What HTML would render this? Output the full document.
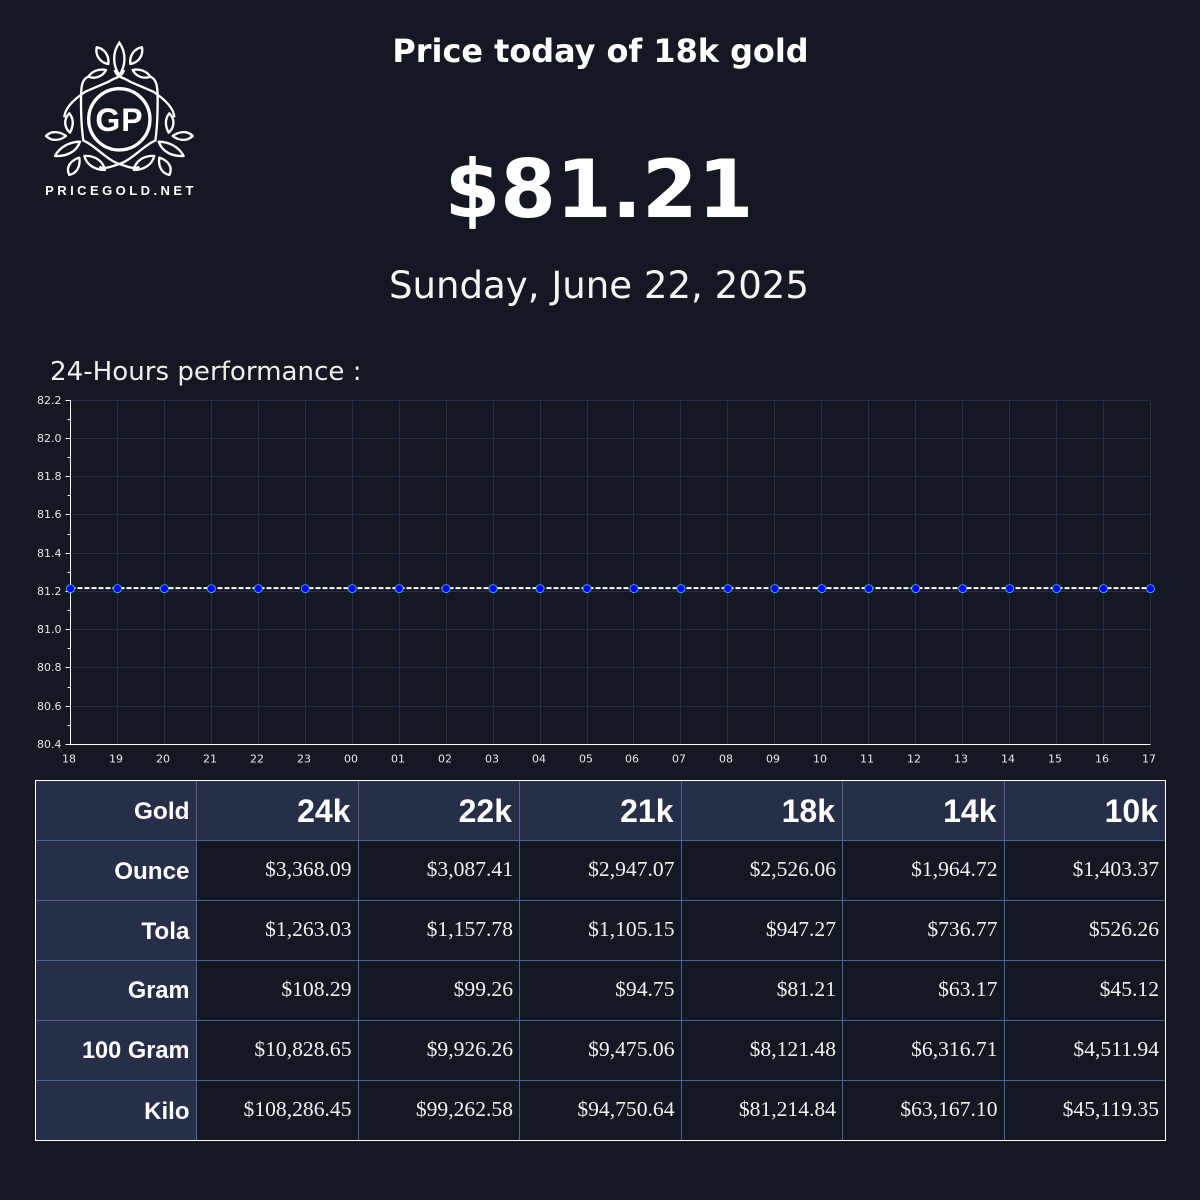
<!DOCTYPE html>
<html lang="en"><head><meta charset="utf-8"><title>Price today of 18k gold</title>
<style>
html,body{margin:0;padding:0;background:#131822;}
#page{position:relative;width:1200px;height:1200px;background:#131822;overflow:hidden;color:#fff;font-family:"DejaVu Sans",sans-serif;}
.abs{position:absolute;white-space:nowrap;}
#title{left:0.5px;width:1200px;top:32px;text-align:center;font-size:31.9px;font-weight:bold;line-height:38px;}
#price{left:0;width:1198px;top:143px;text-align:center;font-size:80px;font-weight:bold;line-height:94px;}
#date{left:0;width:1198px;top:264px;text-align:center;font-size:37.1px;line-height:44px;color:#f4f4f4;}
#perf{left:50px;top:356px;font-size:26.1px;line-height:32px;color:#eee;}
#chart{position:absolute;left:0;top:390px;}
table{position:absolute;left:35px;top:780px;width:1131px;height:361px;border-collapse:collapse;table-layout:fixed;}
td,th{border:1px solid #4a62a0;padding:0 6px 2px 0;text-align:right;box-sizing:border-box;height:60px;font-weight:normal;}
td{font:21.6px "Liberation Serif",serif;color:#f0f0f0;}
th{background:#262e48;font:bold 24px "Liberation Sans",sans-serif;color:#fff;padding:2px 6.5px 0 0;}
thead th:not(:first-child){font-size:32px;padding:2px 7px 0 0;}
#table-frame{position:absolute;left:35px;top:780px;width:1131px;height:361px;box-sizing:border-box;border:1px solid #fff;pointer-events:none;}
</style></head>
<body>
<div id="page">
<svg class="abs" style="left:0;top:0" width="240" height="210" viewBox="0 0 240 210">
<defs><g id="half" fill="none" stroke="#fff" stroke-width="7" stroke-linejoin="round">
<path d="M230 82C255 85 268 110 265 132C240 128 225 105 230 82Z"/>
<path d="M258 150C235 145 215 155 205 170C225 178 248 170 258 150Z"/>
<path d="M205 170C185 178 183 200 183 240C183 290 186 335 190 362C220 372 260 420 298 432C325 441 345 449 358 440"/>
<path d="M284 150C290 172 310 172 330 185L400 215C430 235 462 262 463 292"/>
<path d="M148 280C128 300 135 325 150 338C162 315 160 295 148 280Z"/>
<path d="M78 348C95 330 120 335 138 348C120 362 95 365 78 348Z"/>
<path d="M105 408C120 380 150 365 180 365C170 395 140 410 105 408Z"/>
<path d="M148 465C135 440 155 420 178 413C182 440 170 460 148 465Z"/>
<path d="M193 408C225 405 250 425 255 450C225 450 200 435 193 408Z"/>
</g></defs>
<g transform="translate(20,20) scale(.3333)">
<use href="#half"/><use href="#half" transform="translate(596,0) scale(-1,1)"/>
<path d="M298 68C275 100 280 140 298 165C316 140 321 100 298 68Z" fill="none" stroke="#fff" stroke-width="7"/>
<circle cx="298" cy="298" r="92" fill="#131822" stroke="#fff" stroke-width="10"/>
</g>
<text x="119.5" y="131" text-anchor="middle" font-family="Liberation Sans, sans-serif" font-weight="bold" font-size="32" letter-spacing="1" fill="#fff">GP</text>
<text x="121" y="195" text-anchor="middle" font-family="Liberation Sans, sans-serif" font-weight="bold" font-size="13" letter-spacing="3.45" fill="#fff">PRICEGOLD.NET</text>
</svg>
<div id="title" class="abs">Price today of 18k gold</div>
<div id="price" class="abs">$81.21</div>
<div id="date" class="abs">Sunday, June 22, 2025</div>
<div id="perf" class="abs">24-Hours performance :</div>
<svg id="chart" width="1200" height="385"></svg>
<table>
<colgroup><col style="width:161px"><col><col><col><col><col><col></colgroup>
<thead><tr><th style="font-size:24.4px">Gold</th><th>24k</th><th>22k</th><th>21k</th><th>18k</th><th>14k</th><th>10k</th></tr></thead>
<tbody>
<tr><th style="font-size:24.2px">Ounce</th><td>$3,368.09</td><td>$3,087.41</td><td>$2,947.07</td><td>$2,526.06</td><td>$1,964.72</td><td>$1,403.37</td></tr>
<tr><th style="font-size:24.3px">Tola</th><td>$1,263.03</td><td>$1,157.78</td><td>$1,105.15</td><td>$947.27</td><td>$736.77</td><td>$526.26</td></tr>
<tr><th style="font-size:23.6px">Gram</th><td>$108.29</td><td>$99.26</td><td>$94.75</td><td>$81.21</td><td>$63.17</td><td>$45.12</td></tr>
<tr><th style="font-size:23.6px">100 Gram</th><td>$10,828.65</td><td>$9,926.26</td><td>$9,475.06</td><td>$8,121.48</td><td>$6,316.71</td><td>$4,511.94</td></tr>
<tr><th>Kilo</th><td>$108,286.45</td><td>$99,262.58</td><td>$94,750.64</td><td>$81,214.84</td><td>$63,167.10</td><td>$45,119.35</td></tr>
</tbody></table>
<div id="table-frame"></div>
</div>
<script>
const hours = ["18","19","20","21","22","23","00","01","02","03","04","05","06","07","08","09","10","11","12","13","14","15","16","17"];
const prices = [81.2148,81.2148,81.2148,81.2148,81.2148,81.2148,81.2148,81.2148,81.2148,81.2148,81.2148,81.2148,81.2148,81.2148,81.2148,81.2148,81.2148,81.2148,81.2148,81.2148,81.2148,81.2148,81.2148,81.2148];
const yTicks = ["80.4","80.6","80.8","81.0","81.2","81.4","81.6","81.8","82.0","82.2"];
const yMinorTicks = [80.5,80.7,80.9,81.1,81.3,81.5,81.7,81.9,82.1];

document.querySelectorAll('tbody td').forEach(function(td){
  
  
});

const svg = document.getElementById('chart');
const NS = 'http://www.w3.org/2000/svg';
const L = 70.5, R = 1150.5, T = 9.7, B = 353.95;
const yMin = 80.4, yMax = 82.2;
function xAt(i){ return L + (R - L) * i / (hours.length - 1); }
function yAt(v){ return B - (B - T) * (v - yMin) / (yMax - yMin); }
function mk(tag, attrs, parent){
  const e = document.createElementNS(NS, tag);
  for (const k in attrs) e.setAttribute(k, attrs[k]);
  (parent || svg).appendChild(e);
  return e;
}
const axisTop = Math.round(yAt(yMax)) + 0.5;
const axisBottom = Math.round(yAt(yMin)) + 0.5;
yTicks.forEach(function(t){
  const y = Math.round(yAt(+t)) + 0.5;
  const g = mk('line', {x1:L, x2:R, y1:y, y2:y, stroke:'#272c47', 'stroke-width':1});
  
  
  const k = mk('line', {x1:L-5, x2:L, y1:y, y2:y, stroke:'#fff', 'stroke-width':1});
  
  
  const l = mk('text', {x:L-9, y:y+3.5, 'text-anchor':'end', 'font-size':11, fill:'#e6e6e6', 'font-family':'DejaVu Sans, sans-serif'});
  l.textContent = t;
  
  
});
yMinorTicks.forEach(function(t){
  const y = Math.round(yAt(t)) + 0.5;
  const k = mk('line', {x1:L-3, x2:L, y1:y, y2:y, stroke:'#fff', 'stroke-width':1});
  
  
});
hours.forEach(function(h, i){
  const x = Math.floor(xAt(i)) + 0.5;
  const g = mk('line', {x1:x, x2:x, y1:axisTop, y2:axisBottom, stroke:'#272c47', 'stroke-width':1});
  
  
  const l = mk('text', {x:x-1.5, y:axisBottom+18, 'text-anchor':'middle', 'font-size':11, fill:'#e6e6e6', 'font-family':'DejaVu Sans, sans-serif'});
  l.textContent = h;
  
  
});
const yAxis = mk('line', {x1:L, x2:L, y1:axisTop, y2:axisBottom+0.5, stroke:'#fff', 'stroke-width':1});


const xAxis = mk('line', {x1:L, x2:R, y1:axisBottom, y2:axisBottom, stroke:'#fff', 'stroke-width':1});


const line = mk('polyline', {points:prices.map(function(v,i){return xAt(i)+','+yAt(v);}).join(' '), fill:'none', stroke:'#fff', 'stroke-width':2, 'stroke-dasharray':'5 2'});


prices.forEach(function(v, i){
  const c = mk('circle', {cx:xAt(i), cy:yAt(v)+0.5, r:4, fill:'#0000ff', stroke:'#35c8e8', 'stroke-width':0.8});
  
  
});
</script>
</body></html>
